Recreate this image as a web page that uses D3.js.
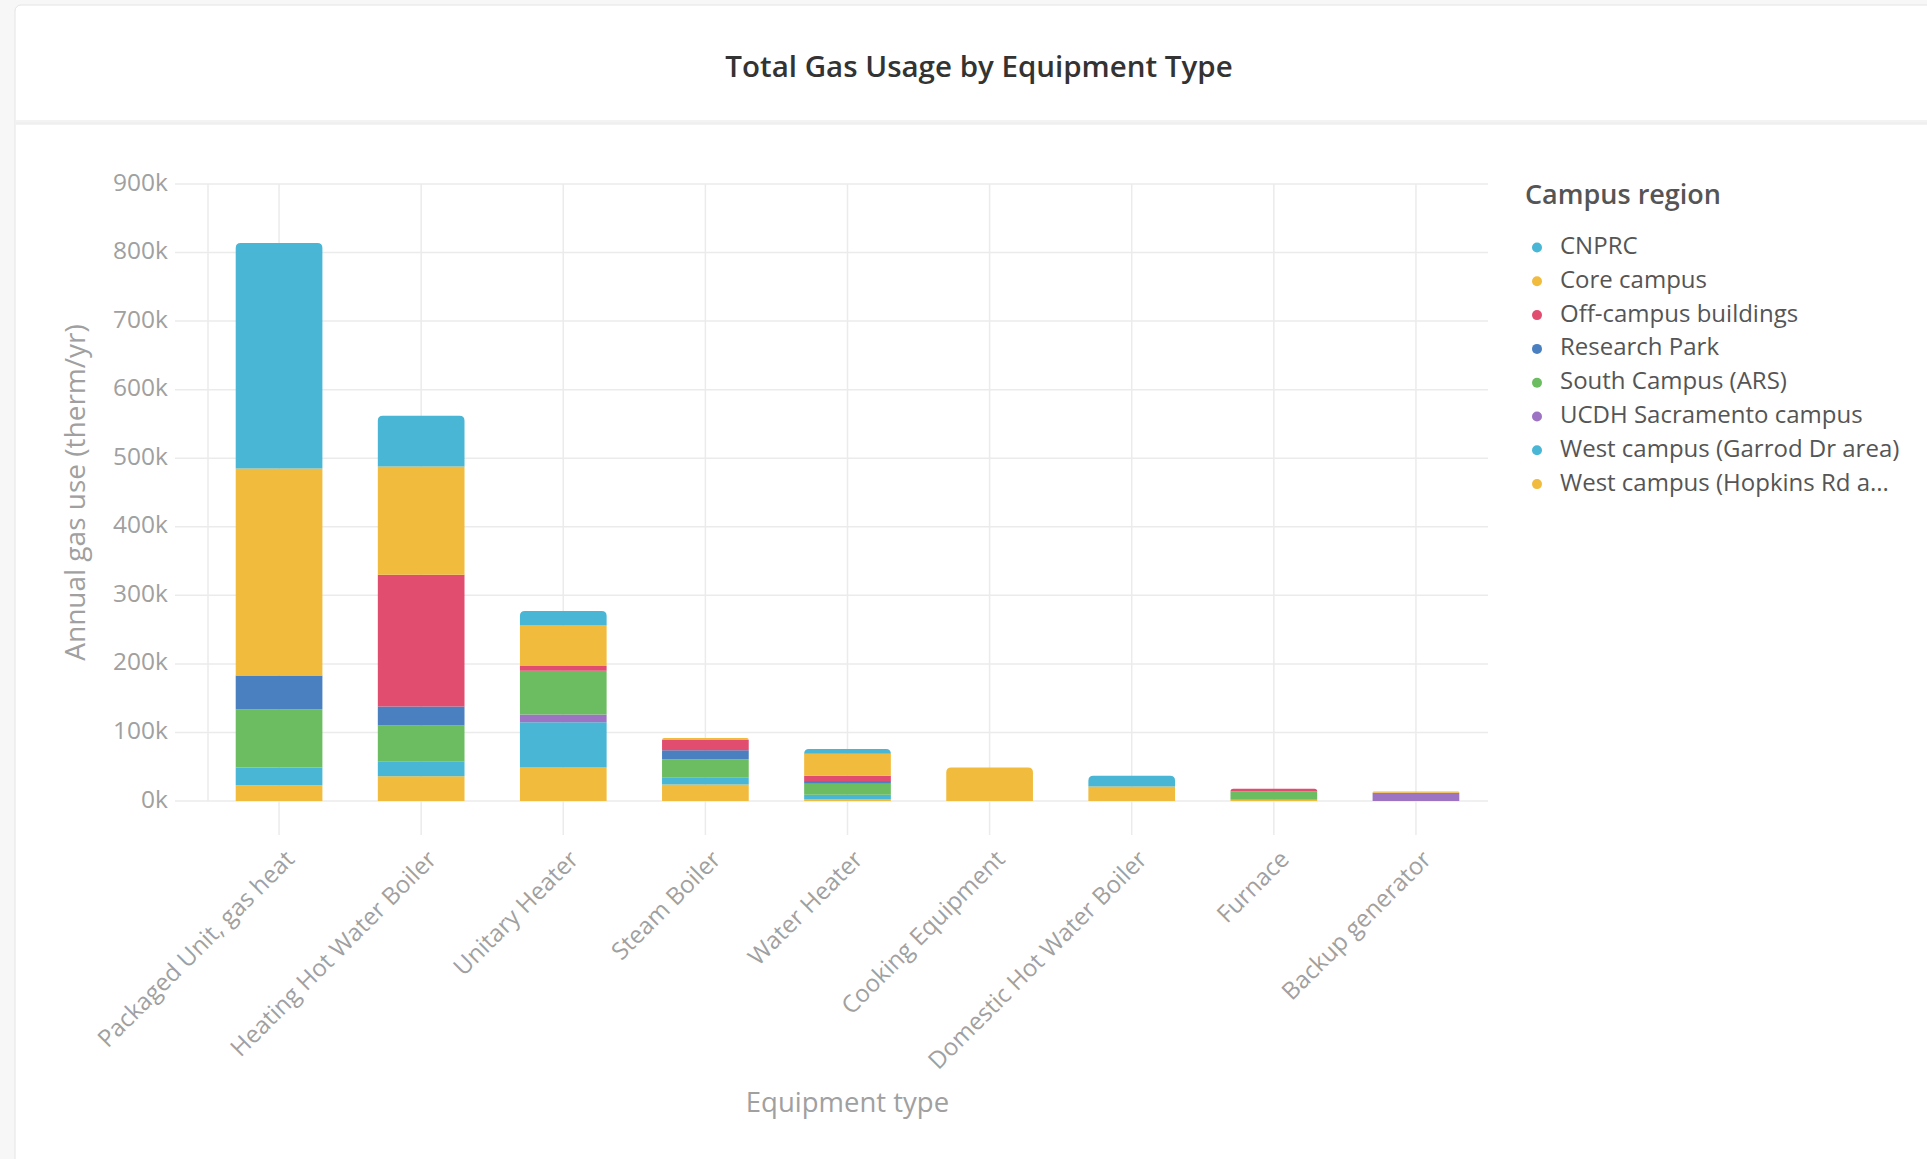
<!DOCTYPE html>
<html>
<head>
<meta charset="utf-8">
<script src="https://cdn.jsdelivr.net/npm/d3@7"></script>
<style>
  body { margin: 0; background: #f7f7f8; font-family: "Open Sans", "Noto Sans", sans-serif; }
  #chart svg { display: block; }
</style>
</head>
<body>
<div id="chart"></div>
<script>
const WIDTH = 1927;
const HEIGHT = 1159;

// equipment types along x
const categories = [
    "Packaged Unit, gas heat",
    "Heating Hot Water Boiler",
    "Unitary Heater",
    "Steam Boiler",
    "Water Heater",
    "Cooking Equipment",
    "Domestic Hot Water Boiler",
    "Furnace",
    "Backup generator"
];

// campus regions, legend order
const regions = [
    "CNPRC",
    "Core campus",
    "Off-campus buildings",
    "Research Park",
    "South Campus (ARS)",
    "UCDH Sacramento campus",
    "West campus (Garrod Dr area)",
    "West campus (Hopkins Rd a..."
];

// annual gas use per region (therm/yr), one value per category
const cnprc      = [329000, 74000, 21000, 0, 7000, 0, 16000, 0, 0];
const core       = [302000, 158000, 59000, 3000, 32000, 49000, 21000, 0, 2000];
const offCampus  = [0, 192000, 7000, 15000, 8000, 0, 0, 4000, 0];
const research   = [49000, 28000, 0, 13000, 4000, 0, 0, 0, 0];
const south      = [85000, 52000, 64000, 27000, 16000, 0, 0, 12000, 0];
const ucdh       = [0, 0, 11000, 0, 0, 0, 0, 0, 12000];
const garrod     = [26000, 22000, 66000, 10000, 6000, 0, 0, 0, 0];
const hopkins    = [23000, 36000, 49000, 24000, 3000, 0, 0, 2000, 0];

const seriesValues = [cnprc, core, offCampus, research, south, ucdh, garrod, hopkins];
const yTicks = [0, 100000, 200000, 300000, 400000, 500000, 600000, 700000, 800000, 900000];

const COLORS = ["#48b6d4", "#f1bb3d", "#e04d6f", "#4a7fc0", "#6cbd61", "#9d74c3", "#48b6d4", "#f1bb3d"];

const PLOT = { LEFT: 208, RIGHT: 1487, TOP: 184, BOTTOM: 801 };

// table the stack wants
const table = categories.map((c, i) => {
    const row = { category: c };
    regions.forEach((r, j) => { row[r] = seriesValues[j][i]; });
    return row;
});

const SVG = d3.select("#chart")
    .append("svg")
    .attr("width", WIDTH)
    .attr("height", HEIGHT);

// card
SVG.append("rect")
    .attr("x", 15).attr("y", 5)
    .attr("width", 1960).attr("height", 1180)
    .attr("rx", 6)
    .attr("fill", "#fff")
    .attr("stroke", "#e4e4e6");

SVG.append("rect")
    .attr("x", 16).attr("y", 120)
    .attr("width", 1960).attr("height", 5)
    .attr("fill", "#f3f3f4");
SVG.append("line")
    .attr("x1", 16).attr("x2", 1927)
    .attr("y1", 123).attr("y2", 123)
    .attr("stroke", "#ececee");

SVG.append("text")
    .attr("x", 979).attr("y", 69)
    .attr("text-anchor", "middle")
    .attr("dominant-baseline", "middle")
    .attr("font-size", 29.5)
    .attr("font-weight", 600)
    .attr("fill", "#333")
    .text("Total Gas Usage by Equipment Type");

const x = d3.scaleBand()
    .domain(categories)
    .range([PLOT.LEFT, PLOT.RIGHT])
    .paddingInner(0.39)
    .paddingOuter(0.195);

const y = d3.scaleLinear()
    .domain([0, 900000])
    .range([PLOT.BOTTOM, PLOT.TOP]);

const grid = SVG.append("g").attr("stroke", "#ebebeb").attr("stroke-width", 1.5);

grid.selectAll(".hgrid")
    .data(yTicks)
    .enter()
    .append("line")
    .attr("x1", 175).attr("x2", PLOT.RIGHT + 1)
    .attr("y1", d => y(d)).attr("y2", d => y(d));

grid.append("line")
    .attr("x1", PLOT.LEFT).attr("x2", PLOT.LEFT)
    .attr("y1", PLOT.TOP).attr("y2", PLOT.BOTTOM);

grid.selectAll(".vgrid")
    .data(categories)
    .enter()
    .append("line")
    .attr("x1", d => x(d) + x.bandwidth() / 2)
    .attr("x2", d => x(d) + x.bandwidth() / 2)
    .attr("y1", PLOT.TOP).attr("y2", PLOT.BOTTOM + 34);

// y tick labels
SVG.append("g")
    .selectAll("text")
    .data(yTicks)
    .enter()
    .append("text")
    .attr("x", 168)
    .attr("y", d => y(d))
    .attr("text-anchor", "end")
    .attr("dominant-baseline", "middle")
    .attr("font-size", 24.5)
    .attr("fill", "#a0a0a0")
    .text(d => d3.format(",.0f")(d / 1000) + "k");

// x tick labels
SVG.append("g")
    .selectAll("text")
    .data(categories)
    .enter()
    .append("text")
    .attr("transform", d => `translate(${x(d) + x.bandwidth() / 2 + 2}, 846) rotate(-45)`)
    .attr("text-anchor", "end")
    .attr("dominant-baseline", "hanging")
    .attr("font-size", 24)
    .attr("fill", "#a0a0a0")
    .text(d => d);

// axis titles
SVG.append("text")
    .attr("x", (PLOT.LEFT + PLOT.RIGHT) / 2)
    .attr("y", 1105)
    .attr("text-anchor", "middle")
    .attr("dominant-baseline", "middle")
    .attr("font-size", 27.5)
    .attr("fill", "#a0a0a0")
    .text("Equipment type");

SVG.append("text")
    .attr("transform", `translate(78, ${(PLOT.TOP + PLOT.BOTTOM) / 2}) rotate(-90)`)
    .attr("text-anchor", "middle")
    .attr("dominant-baseline", "middle")
    .attr("font-size", 28)
    .attr("fill", "#a0a0a0")
    .text("Annual gas use (therm/yr)");

// stacked bars, last legend entry at the bottom
const stackKeys = regions.slice().reverse();
const stacked = d3.stack().keys(stackKeys)(table);

const topKey = {};
table.forEach(row => {
    stackKeys.forEach(k => { if (row[k] > 0) topKey[row.category] = k; });
});

const R = 5;
const segPath = (x0, w, yTop, yBot, rounded) => {
    if (!rounded) return `M${x0},${yBot}V${yTop}H${x0 + w}V${yBot}Z`;
    const r = Math.min(R, (yBot - yTop));
    return `M${x0},${yBot}V${yTop + r}Q${x0},${yTop} ${x0 + r},${yTop}` +
        `H${x0 + w - r}Q${x0 + w},${yTop} ${x0 + w},${yTop + r}V${yBot}Z`;
};

const bars = SVG.append("g");
stacked.forEach(layer => {
    const color = COLORS[regions.indexOf(layer.key)];
    bars.append("g")
        .attr("fill", color)
        .selectAll("path")
        .data(layer.filter(d => d[1] - d[0] > 0))
        .enter()
        .append("path")
        .attr("d", d => segPath(
            x(d.data.category), x.bandwidth(),
            y(d[1]), y(d[0]),
            topKey[d.data.category] === layer.key));
});

// legend
const legend = SVG.append("g");
legend.append("text")
    .attr("x", 1525).attr("y", 197)
    .attr("dominant-baseline", "middle")
    .attr("font-size", 27)
    .attr("font-weight", 600)
    .attr("fill", "#555")
    .text("Campus region");

const items = legend.selectAll(".item")
    .data(regions)
    .enter()
    .append("g")
    .attr("transform", (d, i) => `translate(1537, ${247.5 + i * 33.8})`);

items.append("circle")
    .attr("r", 5)
    .attr("fill", (d, i) => COLORS[i]);

items.append("text")
    .attr("x", 23)
    .attr("dominant-baseline", "middle")
    .attr("font-size", 24)
    .attr("fill", "#555")
    .text(d => d);
</script>
</body>
</html>
